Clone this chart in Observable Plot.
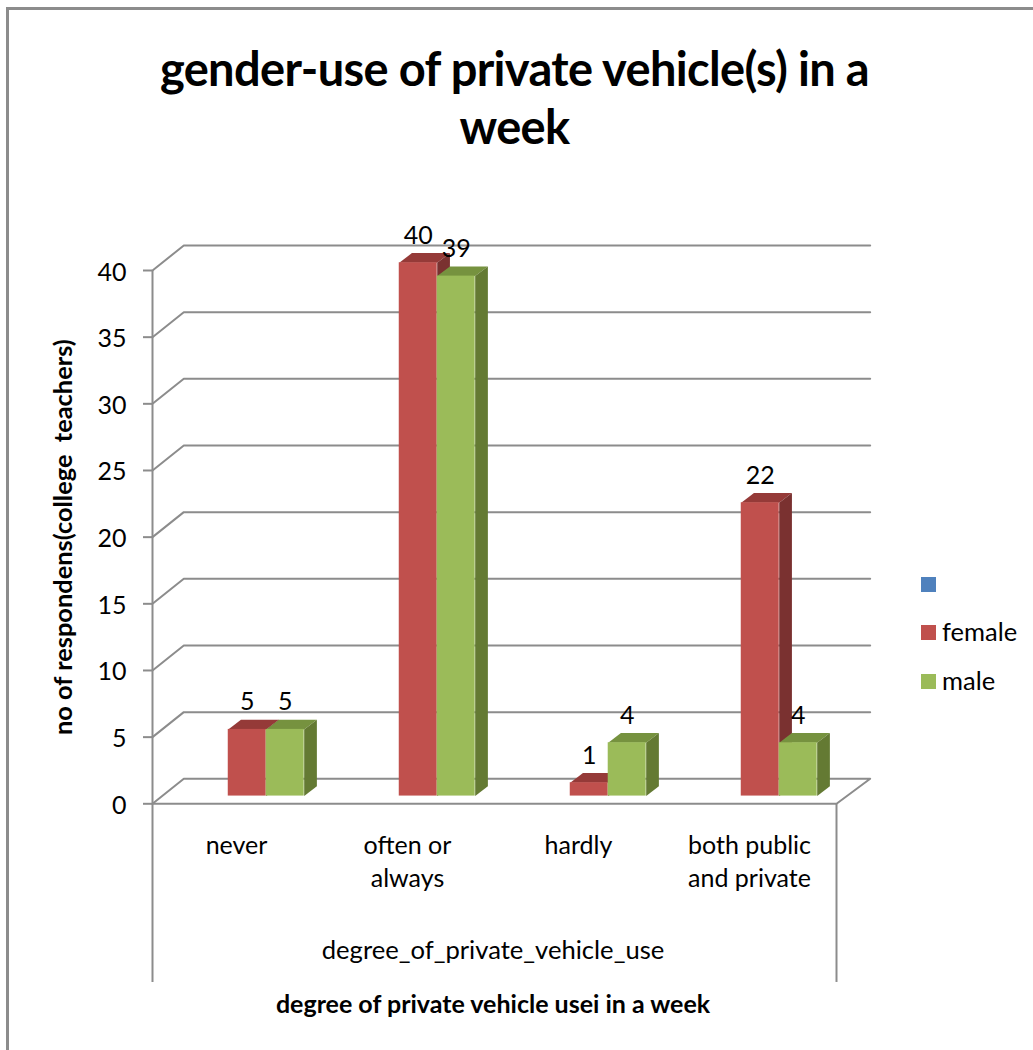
<!DOCTYPE html>
<html>
<head>
<meta charset="utf-8">
<script src="https://cdn.jsdelivr.net/npm/d3@7"></script>
<script src="https://cdn.jsdelivr.net/npm/@observablehq/plot@0.6"></script>
<style>
  html, body { margin: 0; padding: 0; background: #fff; }
  body { width: 1033px; height: 1050px; position: relative; overflow: hidden; font-family: Lato, "Open Sans", sans-serif; color: #000; }
  #border { position: absolute; left: 6px; top: 7px; right: -10px; bottom: -10px; border: 3px solid #8c8c8c; box-sizing: border-box; }
  #title { position: relative; height: 200px; box-sizing: border-box; padding-top: 39px; padding-right: 4px; text-align: center; font-size: 47px; font-weight: 700; line-height: 58px; letter-spacing: -0.65px; }
  #chart { position: relative; }
  #chart svg { display: block; background: transparent; }
  #legend { position: absolute; left: 921px; top: 577px; font-size: 25.5px; }
  #legend .row { position: absolute; left: 0; width: 110px; height: 15px; }
  #legend .swatch { position: absolute; left: 0; top: 0; width: 15px; height: 15px; }
  #legend .name { position: absolute; left: 21px; top: -9px; line-height: 30px; }
</style>
</head>
<body>
<div id="border"></div>
<div id="title">gender-use of private vehicle(s) in a<br>week</div>
<div id="chart"></div>
<div id="legend"></div>
<script>
// Survey counts per degree of private vehicle use
const categories = ["never", "often or\nalways", "hardly", "both public\nand private"];
const female = [5, 40, 1, 22];
const male = [5, 39, 4, 4];
const yTicks = [0, 5, 10, 15, 20, 25, 30, 35, 40];
const legendNames = ["", "female", "male"];

const yLabel = "no of respondens(college  teachers)";
const innerLabel = "degree_of_private_vehicle_use";
const xLabel = "degree of private vehicle usei in a week";

const gray = "#8c8c8c";
const seriesColors = {female: "#c0504d", male: "#9bbb59", "": "#4f81bd"};
const faceColors = {
  "female-top": "#953a38", "female-side": "#7a3130",
  "male-top": "#76923f", "male-side": "#647a33"
};

// Oblique projection of the box, expressed in scale units
const wallDxLeft = 0.183, wallDxRight = 0.197, wallDy = 1.875;
const barLeft = 0.443, barWidth = 0.222;
const barLift = 0.58, barDx = 0.0743, barDy = 0.727;
const dropTo = -13.4;
const tickLength = 9 / 171;

const bars = [];
categories.forEach((c, i) => {
  bars.push({series: "female", value: female[i], x1: i + barLeft, x2: i + barLeft + barWidth});
  bars.push({series: "male", value: male[i], x1: i + barLeft + barWidth, x2: i + barLeft + 2 * barWidth});
});
bars.sort((a, b) => d3.ascending(a.series, b.series));

// Top and side faces of each bar as filled polygons
const faces = bars.flatMap((b, i) => {
  const top = b.value + barLift;
  return [
    {id: i + "t", face: b.series + "-top", pts: [[b.x1, top], [b.x1 + barDx, top + barDy], [b.x2 + barDx, top + barDy], [b.x2, top]]},
    {id: i + "s", face: b.series + "-side", pts: [[b.x2, barLift], [b.x2 + barDx, barLift + barDy], [b.x2 + barDx, top + barDy], [b.x2, top]]}
  ].flatMap(f => f.pts.map(([x, y]) => ({id: f.id, face: f.face, x, y})));
});

// Wall lines: a step back from the front edge, then along the back wall
const wallLines = yTicks.flatMap(v => [
  {v, x: 0, y: v},
  {v, x: wallDxLeft, y: v + wallDy},
  {v, x: 4 + wallDxRight, y: v + wallDy},
  ...(v === 0 ? [{v, x: 4, y: 0}] : [])
]);

const chart = Plot.plot({
  width: 1033,
  height: 850,
  marginTop: 70,
  marginBottom: 246.7,
  marginLeft: 152,
  marginRight: 197,
  style: {fontFamily: "Lato, 'Open Sans', sans-serif", background: "transparent", color: "#000"},
  x: {domain: [0, 4], axis: null},
  y: {domain: [0, 40], axis: null},
  color: {domain: Object.keys(faceColors), range: Object.values(faceColors)},
  marks: [
    Plot.line(wallLines, {x: "x", y: "y", z: "v", stroke: gray, strokeWidth: 2}),
    Plot.ruleY([0], {x1: 0, x2: 4, stroke: gray, strokeWidth: 2}),
    Plot.ruleX([0], {y1: dropTo, y2: 40, stroke: gray, strokeWidth: 2}),
    Plot.ruleX([4], {y1: dropTo, y2: 0, stroke: gray, strokeWidth: 2}),
    Plot.ruleY(yTicks, {x1: -tickLength, x2: 0, stroke: gray, strokeWidth: 2}),
    Plot.axisY({ticks: yTicks, tickSize: 0, tickPadding: 26, dy: 2, fontSize: 25, label: null, fill: "#000"}),
    Plot.line(faces, {x: "x", y: "y", z: "id", fill: "face", stroke: "none"}),
    Plot.rect(bars, {
      x1: "x1", x2: "x2", y1: barLift, y2: d => d.value + barLift,
      fill: d => seriesColors[d.series], inset: 0
    }),
    Plot.text(bars, {
      x: d => (d.x1 + d.x2) / 2, y: d => d.value + barLift, text: d => String(d.value),
      dy: -27, fontSize: 25, fill: "#000"
    }),
    Plot.text(categories, {
      x: (d, i) => i + 0.5, y: 0, text: d => d, dx: -1.5, dy: 27, lineAnchor: "top",
      lineHeight: 1.32, fontSize: 25, fill: "#000"
    }),
    Plot.text([innerLabel], {x: 2, y: 0, text: d => d, dy: 147, fontSize: 25.6, dx: -1.5, fill: "#000"}),
    Plot.text([xLabel], {x: 2, y: 0, text: d => d, dy: 201, fontSize: 25, dx: -1.5, fontWeight: 700, fill: "#000"}),
    Plot.text([yLabel], {frameAnchor: "left", textAnchor: "middle", text: d => d, rotate: -90, dx: -89, fontSize: 25.4, fontWeight: 700, fill: "#000"})
  ]
});
document.getElementById("chart").appendChild(chart);

// Series key to the right of the plot
const legend = d3.select("#legend");
const rowTops = [0, 48, 97];
legendNames.forEach((name, i) => {
  const row = legend.append("div").attr("class", "row").style("top", rowTops[i] + "px");
  row.append("div").attr("class", "swatch").style("background", seriesColors[name]);
  row.append("div").attr("class", "name").text(name);
});
</script>
</body>
</html>
